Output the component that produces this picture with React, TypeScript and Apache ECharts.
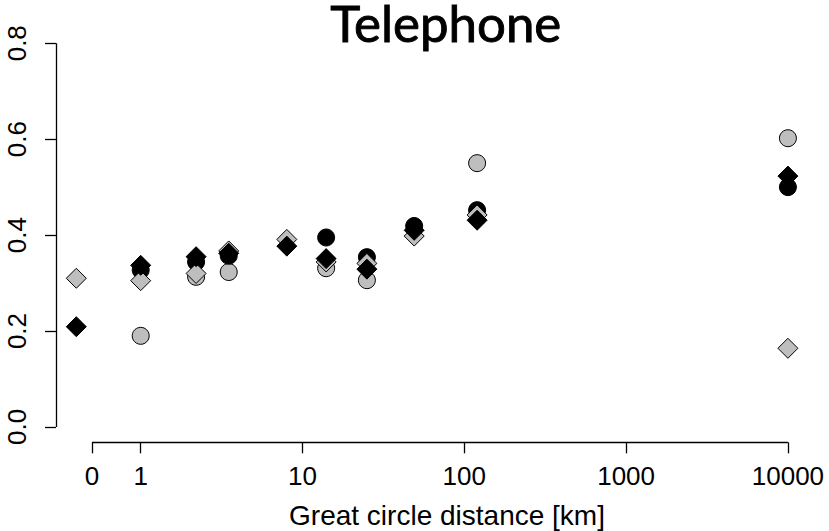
import React, { useEffect, useRef } from "react";
import * as echarts from "echarts";

// Great circle distance of each group of measurements, in km
const distancesKm = [0.4, 1, 2.2, 3.5, 8, 14, 25, 49, 120, 10000];

// Values per distance (null where a group has no measurement)
const greyCircles = [null, 0.19, 0.313, 0.323, null, 0.331, 0.306, null, 0.55, 0.602];
const blackCircles = [null, 0.327, 0.344, 0.357, null, 0.395, 0.354, 0.419, 0.452, 0.5];
const greyDiamonds = [0.31, 0.305, 0.32, 0.367, 0.391, 0.344, 0.341, 0.398, 0.442, 0.164];
const blackDiamonds = [0.209, 0.337, 0.355, 0.362, 0.377, 0.351, 0.329, 0.41, 0.431, 0.523];

// Axis ticks
const xTickKm = [0.5, 1, 10, 100, 1000, 10000];
const xTickLabels = ["0", "1", "10", "100", "1000", "10000"];
const yTicks = [0, 0.2, 0.4, 0.6, 0.8];

const TITLE = "Telephone";
const X_NAME = "Great circle distance [km]";

const AXIS_FONT = "Liberation Sans";
const GREY = "#BEBEBE";

const lg = (v: number) => Math.log10(v);

function toPoints(values: (number | null)[]) {
  const out: number[][] = [];
  values.forEach((v, i) => {
    if (v !== null) out.push([lg(distancesKm[i]), v]);
  });
  return out;
}

export default function App() {
  const ref = useRef<HTMLDivElement>(null);

  useEffect(() => {
    if (!ref.current) return;
    const chart = echarts.init(ref.current, null, { renderer: "svg" });

    const xMin = -0.5235;
    const xMax = 4.3096;
    const yMin = -0.032;
    const yMax = 0.832;
    const xTickPos = xTickKm.map(lg);

    const scatter = (
      name: string,
      values: (number | null)[],
      symbol: string,
      size: number,
      fill: string
    ) => ({
      name,
      type: "scatter",
      data: toPoints(values),
      symbol,
      symbolSize: size,
      clip: false,
      itemStyle: { color: fill, borderColor: "#000", borderWidth: 1, opacity: 1 },
      emphasis: { disabled: true },
    });

    const first: any = scatter("grey circles", greyCircles, "circle", 17, GREY);
    // axis lines spanning only the tick range
    first.markLine = {
      silent: true,
      symbol: ["none", "none"],
      label: { show: false },
      emphasis: { disabled: true },
      lineStyle: { color: "#000", width: 1.3, type: "solid" },
      data: [
        [{ coord: [xTickPos[0], yMin] }, { coord: [xTickPos[xTickPos.length - 1], yMin] }],
        [{ coord: [xMin, yTicks[0]] }, { coord: [xMin, yTicks[yTicks.length - 1]] }],
      ],
    };

    chart.setOption({
      animation: false,
      backgroundColor: "#fff",
      grid: {
        left: 56,
        top: 27.9,
        width: 782,
        height: 414.4,
        outerBoundsMode: "none",
        containLabel: false,
      },
      graphic: [
        {
          type: "text",
          x: 445.7,
          y: 0,
          style: {
            text: TITLE,
            fill: "#000",
            stroke: "#000",
            lineWidth: 0.9,
            font: "51px Lato",
            lineHeight: 44,
            textAlign: "center",
            textVerticalAlign: "top",
          },
        },
      ],
      xAxis: {
        type: "value",
        min: xMin,
        max: xMax,
        name: X_NAME,
        nameLocation: "middle",
        nameGap: 59,
        nameTextStyle: { fontFamily: AXIS_FONT, fontSize: 28, color: "#000" },
        axisLine: { show: false, onZero: false },
        splitLine: { show: false },
        axisTick: {
          show: true,
          inside: false,
          length: 11,
          customValues: xTickPos,
          lineStyle: { color: "#000", width: 1.3 },
        },
        axisLabel: {
          customValues: xTickPos,
          margin: 21,
          color: "#000",
          fontFamily: AXIS_FONT,
          fontSize: 26,
          formatter: (v: number) => {
            const i = xTickPos.findIndex((p) => Math.abs(p - v) < 1e-6);
            return i >= 0 ? xTickLabels[i] : "";
          },
        },
      },
      yAxis: {
        type: "value",
        min: yMin,
        max: yMax,
        axisLine: { show: false, onZero: false },
        splitLine: { show: false },
        axisTick: {
          show: true,
          inside: false,
          length: 11,
          customValues: yTicks,
          lineStyle: { color: "#000", width: 1.3 },
        },
        axisLabel: {
          customValues: yTicks,
          rotate: 90,
          margin: 26,
          color: "#000",
          fontFamily: AXIS_FONT,
          fontSize: 26,
          formatter: (v: number) => v.toFixed(1),
        },
      },
      series: [
        first,
        scatter("black circles", blackCircles, "circle", 17, "#000"),
        scatter("grey diamonds", greyDiamonds, "diamond", 20, GREY),
        scatter("black diamonds", blackDiamonds, "diamond", 20, "#000"),
      ],
    });

    return () => chart.dispose();
  }, []);

  return (
    <div
      ref={ref}
      style={{ position: "fixed", left: 0, top: 0, width: 829, height: 531 }}
    />
  );
}
